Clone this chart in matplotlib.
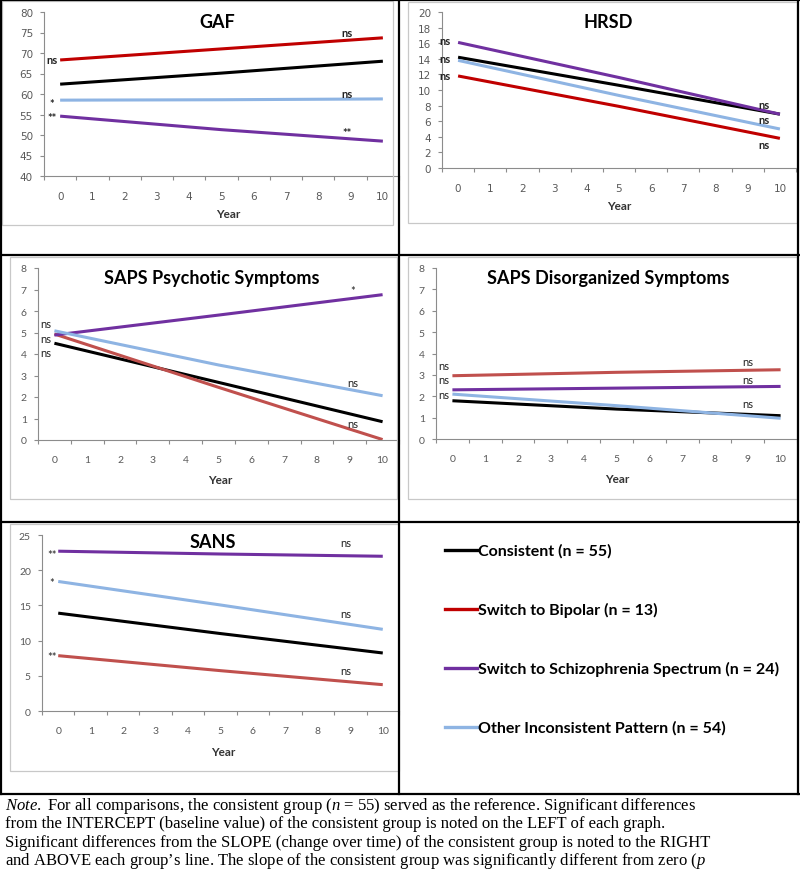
import matplotlib
matplotlib.use('Agg')
import matplotlib.pyplot as plt
from matplotlib.lines import Line2D
from matplotlib.patches import Rectangle
import numpy as np

plt.rcParams['font.family'] = ['Lato', 'DejaVu Sans']
plt.rcParams['mathtext.fontset'] = 'custom'
plt.rcParams['mathtext.rm'] = 'Liberation Serif'
plt.rcParams['mathtext.it'] = 'Liberation Serif:italic'

# groups, in the order used for every panel below
groups = ['Consistent (n = 55)', 'Switch to Bipolar (n = 13)',
          'Switch to Schizophrenia Spectrum (n = 24)', 'Other Inconsistent Pattern (n = 54)']
years = [0, 5, 10]
year_labels = [str(i) for i in range(11)]

# values read at year 0, 5, 10 (consistent, bipolar, schizophrenia, other)
gaf_vals = [[62.4, 65.1, 68.0], [68.3, 71.0, 73.7], [54.6, 51.3, 48.5], [58.5, 58.6, 58.8]]
hrsd_vals = [[14.2, 10.6, 6.9], [11.8, 7.9, 3.8], [16.1, 11.6, 6.9], [13.8, 9.3, 5.0]]
psy_vals = [[4.5, 2.68, 0.85], [4.93, 2.45, 0.02], [4.88, 5.81, 6.76], [5.08, 3.49, 2.06]]
dis_vals = [[1.79, 1.4, 1.09], [2.96, 3.12, 3.24], [2.3, 2.38, 2.46], [2.1, 1.56, 0.97]]
sans_vals = [[13.9, 11.0, 8.24], [7.86, 5.73, 3.74], [22.7, 22.3, 21.98], [18.4, 15.06, 11.6]]

# significance marks: (text, y) on the left (intercept) and right (slope)
gaf_left = [('ns', 68.3), ('*', 57.6), ('**', 54.2)]
gaf_right = [('ns', 75.1), ('ns', 60.0), ('**', 50.6)]
hrsd_left = [('ns', 16.3), ('ns', 14.1), ('ns', 11.8)]
hrsd_right = [('ns', 8.1), ('ns', 6.2), ('ns', 3.0)]
psy_left = [('ns', 5.4), ('ns', 4.74), ('ns', 4.08)]
psy_right = [('*', 6.95), ('ns', 2.68), ('ns', 0.79)]
dis_left = [('ns', 3.43), ('ns', 2.77), ('ns', 2.1)]
dis_right = [('ns', 3.61), ('ns', 2.77), ('ns', 1.64)]
sans_left = [('**', 22.3), ('*', 18.2), ('**', 7.8)]
sans_right = [('ns', 23.9), ('ns', 13.8), ('ns', 5.7)]

W, H = 800, 870
fig = plt.figure(figsize=(W / 100, H / 100), dpi=100)


def fx(x):
    return x / W


def fy(y):
    return 1 - y / H


def hline(x0, x1, y, color='black', lw=1.6):
    fig.add_artist(Line2D([fx(x0), fx(x1)], [fy(y), fy(y)], color=color, lw=lw))


def vline(x, y0, y1, color='black', lw=1.6):
    fig.add_artist(Line2D([fx(x), fx(x)], [fy(y0), fy(y1)], color=color, lw=lw))


def chart_box(x0, y0, x1, y1):
    fig.add_artist(Rectangle((fx(x0), fy(y1)), (x1 - x0) / W, (y1 - y0) / H,
                             fill=False, ec='#c8c8c8', lw=0.9))


def panel(vals, colors, ylim, ystep, left, right, cat0, bin_w, top, bottom,
          title, title_xy, year_xy, lmarks, lx, rmarks, rx, tickfont, mark_bold):
    ax = fig.add_axes([fx(left), fy(bottom), (right - left) / W, (bottom - top) / H])
    for v, c in zip(vals, colors):
        ax.plot(years, v, color=c, lw=2.2, solid_capstyle='butt')
    ax.set_xlim(-0.5, -0.5 + (right - (cat0 - bin_w / 2)) / bin_w)
    ax.set_ylim(*ylim)
    for s in ['top', 'right']:
        ax.spines[s].set_visible(False)
    for s in ['left', 'bottom']:
        ax.spines[s].set_color('#8c8c8c')
        ax.spines[s].set_linewidth(0.8)
    ax.set_yticks(np.arange(ylim[0], ylim[1] + 0.01, ystep))
    ax.set_xticks(np.arange(-0.5, 11, 1))
    ax.set_xticklabels([])
    ax.set_xticks(range(11), minor=True)
    ax.set_xticklabels(year_labels, minor=True)
    ax.tick_params(axis='y', direction='out', length=3, width=0.8, color='#8c8c8c',
                   pad=5, labelsize=7.5, labelcolor='#595959')
    ax.tick_params(axis='x', which='major', direction='out', length=3, width=0.8,
                   color='#8c8c8c')
    ax.tick_params(axis='x', which='minor', length=0, pad=11, labelsize=7.5,
                   labelcolor='#595959')
    for lab in ax.get_yticklabels() + ax.get_xticklabels(minor=True):
        lab.set_family(tickfont)
    ax.patch.set_alpha(0)
    fw = 'bold' if mark_bold else 'normal'
    for t, y in lmarks:
        ax.text(lx, y, t, ha='center', va='center', fontsize=8, fontweight=fw, color='#222222')
    for t, y in rmarks:
        ax.text(rx, y, t, ha='center', va='center', fontsize=8, fontweight=fw, color='#222222')
    fig.text(fx(title_xy[0]), fy(title_xy[1]), title, ha='center', va='center',
             fontsize=13, fontweight='bold')
    fig.text(fx(year_xy[0]), fy(year_xy[1]), 'Year', ha='center', va='center',
             fontsize=8.5, fontweight='bold', color='#333333')
    return ax


dark = ['#000000', '#C00000', '#7030A0', '#8EB4E3']
soft = ['#000000', '#C0504D', '#7030A0', '#8EB4E3']

# light chart-area frames
chart_box(2, 2, 393, 226)
chart_box(408, 3, 797, 224)
chart_box(10, 258, 397, 500)
chart_box(408, 258, 797, 500)
chart_box(10, 525, 399, 772)

panel(gaf_vals, dark, (40, 80), 5, 44, 399, 60, 33.4, 13, 177, 'GAF', (217, 22), (228, 215),
      gaf_left, -0.25, gaf_right, 8.9, 'DejaVu Sans', True)
panel(hrsd_vals, dark, (0, 20), 2, 442, 796, 458, 32.2, 13, 169, 'HRSD', (608, 22), (619, 207),
      hrsd_left, -0.4, hrsd_right, 9.5, 'DejaVu Sans', True)
panel(psy_vals, soft, (0, 8), 1, 38, 399, 54, 33.2, 269, 441, 'SAPS Psychotic Symptoms',
      (212, 279), (220, 481), psy_left, -0.27, psy_right, 9.1, 'Lato', False)
panel(dis_vals, soft, (0, 8), 1, 436, 797, 453, 32.9, 269, 440, 'SAPS Disorganized Symptoms',
      (608, 279), (617, 480), dis_left, -0.25, dis_right, 9.0, 'Lato', False)
panel(sans_vals, soft, (0, 25), 5, 42, 399, 59, 32.8, 536, 712, 'SANS',
      (213, 543), (223, 753), sans_left, -0.2, sans_right, 8.87, 'Lato', False)

# legend cell
leg_y = [551, 610, 669, 728]
for g, c, y in zip(groups, dark, leg_y):
    hline(445, 477, y, color=c, lw=2.4)
    fig.text(fx(478), fy(y), g, ha='left', va='center', fontsize=11.5, fontweight='bold')

# table rules
hline(0, 799, 1)
hline(0, 799, 256)
hline(0, 799, 523)
hline(0, 799, 795)
vline(1, 0, 795)
vline(798, 0, 795)
vline(399, 0, 795)

note = [
    r'$\it{Note.}$ For all comparisons, the consistent group ($\it{n}$ = 55) served as the reference. Significant differences',
    'from the INTERCEPT (baseline value) of the consistent group is noted on the LEFT of each graph.',
    'Significant differences from the SLOPE (change over time) of the consistent group is noted to the RIGHT',
    r'and ABOVE each group’s line. The slope of the consistent group was significantly different from zero ($\it{p}$',
]
for i, line in enumerate(note):
    fig.text(fx(5), fy(806 + 18.5 * i), line, ha='left', va='center', fontsize=12,
             family='Liberation Serif')

plt.savefig('out.png', dpi=100)
